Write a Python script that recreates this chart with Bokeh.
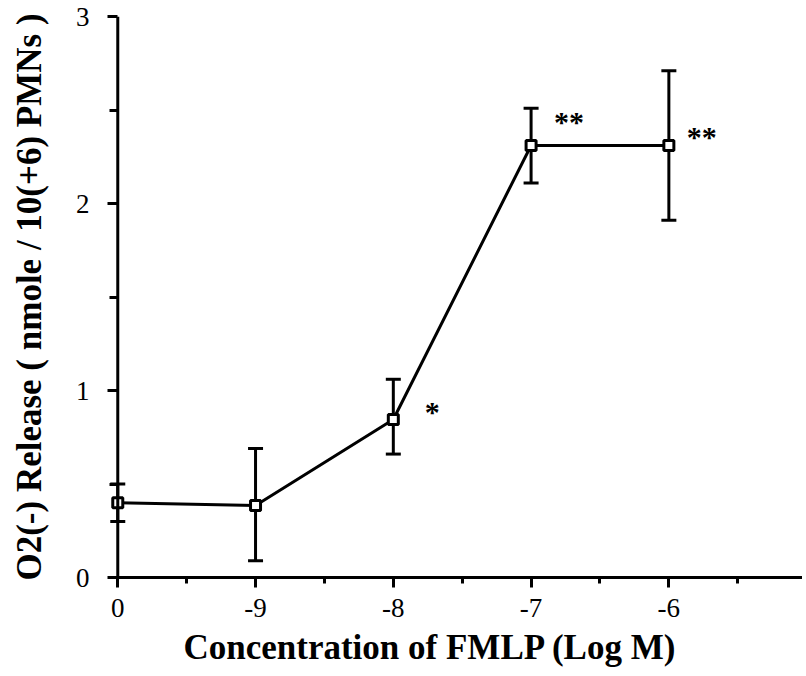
from bokeh.plotting import figure
from bokeh.models import (Range1d, FixedTicker, Label, Whisker, ColumnDataSource,
                          LinearAxis, TeeHead, Span, Title)
from bokeh.embed import file_html
from bokeh.resources import INLINE

# ---- data ----
positions = [0, 1, 2, 3, 4]
tick_labels = ["0", "-9", "-8", "-7", "-6"]
means = [0.40, 0.385, 0.845, 2.31, 2.31]
upper = [0.50, 0.69, 1.06, 2.51, 2.71]
lower = [0.30, 0.09, 0.66, 2.11, 1.91]
sig = ["", "", "*", "**", "**"]
y_ticks = [0, 1, 2, 3]
x_title = "Concentration of FMLP (Log M)"
y_title = "O2(-) Release ( nmole / 10(+6) PMNs )"

# ---- layout / style ----
FONT = "Liberation Serif"
sig_offsets = {2: (39, 8), 3: (38, 24), 4: (33, 9)}

p = figure(width=802, height=672, frame_width=693, frame_height=561,
           x_range=Range1d(-0.06, 4.97), y_range=Range1d(0, 3.0),
           output_backend="svg", toolbar_location=None,
           x_axis_location=None, y_axis_location=None,
           min_border_left=109, min_border_right=0,
           min_border_top=16, min_border_bottom=95)
p.outline_line_color = None
p.xgrid.visible = False
p.ygrid.visible = False
p.background_fill_color = "white"
p.border_fill_color = "white"

xaxis = LinearAxis(
    ticker=FixedTicker(ticks=positions, minor_ticks=[0.5, 1.5, 2.5, 3.5, 4.5]),
    major_label_overrides={pos: lab for pos, lab in zip(positions, tick_labels)},
    major_label_text_font=FONT, major_label_text_font_size="27px",
    major_label_text_color="black", major_label_standoff=11,
    axis_line_color="black", major_tick_line_color="black", minor_tick_line_color="black",
    axis_line_width=3, major_tick_line_width=3, minor_tick_line_width=3,
    major_tick_out=10, major_tick_in=0, minor_tick_out=6, minor_tick_in=0,
)
p.add_layout(xaxis, "below")

p.add_layout(Title(text=x_title, align="left", offset=74, standoff=12,
                   text_font=FONT, text_font_style="bold",
                   text_font_size="35px", text_color="black"), "below")

yaxis = LinearAxis(
    ticker=FixedTicker(ticks=y_ticks, minor_ticks=[0.5, 1.5, 2.5]),
    axis_label=y_title,
    axis_label_text_font=FONT, axis_label_text_font_style="bold",
    axis_label_text_font_size="35px", axis_label_text_color="black",
    axis_label_standoff=24,
    major_label_text_font=FONT, major_label_text_font_size="27px",
    major_label_text_color="black", major_label_standoff=18,
    axis_line_color=None, major_tick_line_color="black", minor_tick_line_color="black",
    major_tick_line_width=3, minor_tick_line_width=3,
    major_tick_out=2, major_tick_in=8, minor_tick_out=0, minor_tick_in=8,
)
p.add_layout(yaxis, "left")

# the y-axis line itself, drawn at x = 0
p.add_layout(Span(location=0, dimension="height", line_color="black", line_width=3))

src = ColumnDataSource(data=dict(x=positions, mean=means, upper=upper, lower=lower))

p.add_layout(Whisker(source=src, base="x", upper="upper", lower="lower",
                     line_width=3, line_color="black",
                     upper_head=TeeHead(size=15, line_width=3, line_color="black"),
                     lower_head=TeeHead(size=15, line_width=3, line_color="black")))

p.line("x", "mean", source=src, line_width=3, line_color="black")
p.scatter("x", "mean", source=src, marker="square", size=10, line_width=3,
          line_color="black", fill_color="white")

for i, s in enumerate(sig):
    if not s:
        continue
    dx, dy = sig_offsets[i]
    p.add_layout(Label(x=positions[i], y=means[i], text=s, x_offset=dx, y_offset=dy,
                       text_align="center", text_baseline="middle",
                       text_font=FONT, text_font_style="bold",
                       text_font_size="30px", text_color="black"))

open("out.html", "w").write(file_html(p, INLINE))
